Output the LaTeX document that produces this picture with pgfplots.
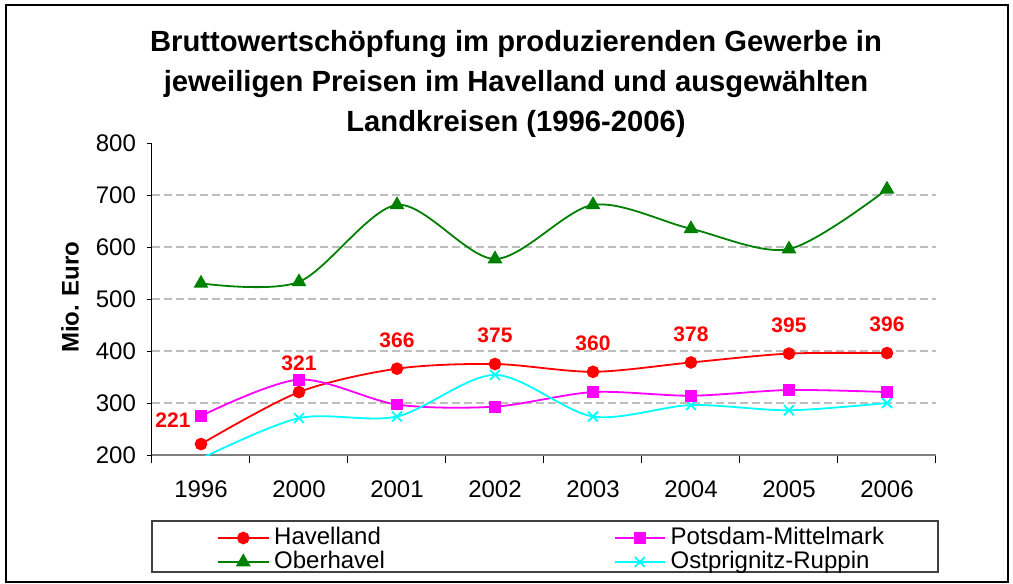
\documentclass[border=0pt]{standalone}
\usepackage{fontspec}
\setmainfont{Liberation Sans}
\usepackage{pgfplots}
\pgfplotsset{compat=1.18}

\definecolor{exred}{RGB}{255,0,0}
\definecolor{exgreen}{RGB}{0,128,0}
\definecolor{exmag}{RGB}{255,0,255}
\definecolor{excyan}{RGB}{0,255,255}
\definecolor{gridgray}{RGB}{190,190,190}

\begin{document}
\begin{tikzpicture}
\useasboundingbox (-76pt,-64.5pt) rectangle (430.5pt,227.5pt);
% outer frame and legend box
\draw[black, line width=0.6pt] (-73pt,-63.5pt) rectangle (428pt,225pt);
\draw[black!75, line width=0.6pt] (0pt,-33pt) rectangle (393pt,-58.5pt);
\node[align=center, font=\fontsize{14.6}{20}\selectfont\bfseries] at (182pt,185.5pt)
  {Bruttowertschöpfung im produzierenden Gewerbe in\\jeweiligen Preisen im Havelland und ausgewählten\\Landkreisen (1996-2006)};

\begin{axis}[
    at={(0,0)}, anchor=south west,
    scale only axis,
    width=392pt, height=156pt,
    xmin=-0.5, xmax=7.5,
    ymin=200, ymax=800,
    axis x line*=bottom,
    axis y line*=left,
    x axis line style={draw=gray, line width=1pt, -},
    y axis line style={draw=black, line width=0.5pt, -},
    tick align=outside,
    xtick={0,...,7},
    xticklabels={1996,2000,2001,2002,2003,2004,2005,2006},
    minor xtick={-0.5,0.5,...,7.5},
    major x tick style={draw=none},
    minor x tick style={black, line width=0.5pt},
    minor tick length=4pt,
    major tick length=2.5pt,
    ytick={200,300,...,800},
    y tick style={black, line width=0.5pt},
    extra y ticks={300,400,500,600,700},
    extra y tick labels={},
    extra y tick style={grid=major, major grid style={gridgray, line width=0.6pt, dash pattern=on 4pt off 2pt}},
    /pgf/number format/assume math mode=true,
    tick label style={font=\fontsize{12}{14}\selectfont},
    xticklabel style={yshift=-7pt},
    yticklabel style={xshift=-2pt},
    ylabel={Mio. Euro},
    ylabel style={font=\fontsize{12}{14}\selectfont\bfseries, at={(axis description cs:-0.1046,0.506)}, anchor=center},
    legend columns=2,
    legend cell align=left,
    legend style={draw=none, fill=none, at={(axis description cs:0.0829,-0.3045)}, anchor=west,
        inner sep=0pt, font=\fontsize{12}{13}\selectfont, row sep=0pt,
        nodes={inner sep=0.5pt, text height=8.5pt, text depth=2.5pt},
        /tikz/every even column/.append style={column sep=114pt},
        /tikz/every odd column/.append style={column sep=2pt}},
    legend image code/.code={\draw[mark repeat=2,mark phase=2] plot coordinates {(0pt,0pt)(12.5pt,0pt)(25pt,0pt)};},
]
% Havelland
\addplot[exred, line width=0.9pt, smooth, mark=*, mark size=2.7pt,
    nodes near coords,
    every node near coord/.append style={font=\fontsize{10.5}{12}\selectfont\bfseries, text=exred, anchor=south, yshift=9pt, inner sep=1pt},
    coordinate style/.condition={x==0}{xshift=-14pt, yshift=-2.25pt}]
    coordinates {(0,221)(1,321)(2,366)(3,375)(4,360)(5,378)(6,395)(7,396)};
\addlegendentry{Havelland}
% Potsdam-Mittelmark
\addplot[exmag, line width=0.9pt, smooth, mark=square*, mark size=2.5pt]
    coordinates {(0,275)(1,345)(2,297)(3,293)(4,321)(5,314)(6,325)(7,321)};
\addlegendentry{Potsdam-Mittelmark}
% Oberhavel
\addplot[exgreen, line width=0.9pt, smooth, mark=triangle*, mark size=3.4pt]
    coordinates {(0,530)(1,533)(2,681)(3,577)(4,681)(5,635)(6,596)(7,711)};
\addlegendentry{Oberhavel}
% Ostprignitz-Ruppin
\addplot[excyan, line width=0.9pt, smooth, mark=x, mark size=3.5pt, clip marker paths=true]
    coordinates {(0,193)(1,271)(2,274)(3,354)(4,274)(5,296)(6,286)(7,300)};
\addlegendentry{Ostprignitz-Ruppin}
\end{axis}
\end{tikzpicture}
\end{document}
